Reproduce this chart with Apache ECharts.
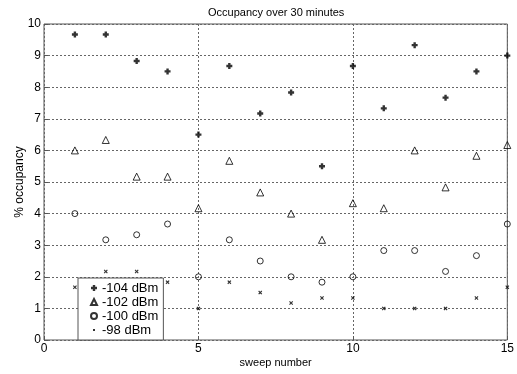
<!DOCTYPE html>
<html>
	<head>
		<meta charset="utf-8" />
		<title>Occupancy over 30 minutes</title>
		<style>
			html, body {
				width: 100%;
				height: 100%;
				margin: 0;
				padding: 0;
				background: #fff;
			}

			#main {
				width: 517px;
				height: 374px;
			}
		</style>
	</head>
	<body>
		<div id="main"></div>
		<script src="https://cdn.jsdelivr.net/npm/echarts@6/dist/echarts.min.js"></script>
		<script>
			var sweeps = [1, 2, 3, 4, 5, 6, 7, 8, 9, 10, 11, 12, 13, 14, 15];
			var dbm104 = [9.67, 9.67, 8.83, 8.5, 6.5, 8.67, 7.17, 7.83, 5.5, 8.67, 7.33, 9.33, 7.67, 8.5, 9.0];
			var dbm102 = [6.0, 6.33, 5.17, 5.17, 4.17, 5.67, 4.67, 4.0, 3.17, 4.33, 4.17, 6.0, 4.83, 5.83, 6.17];
			var dbm100 = [4.0, 3.17, 3.33, 3.67, 2.0, 3.17, 2.5, 2.0, 1.83, 2.0, 2.83, 2.83, 2.17, 2.67, 3.67];
			var dbm98 = [1.67, 2.17, 2.17, 1.83, 1.0, 1.83, 1.5, 1.17, 1.33, 1.33, 1.0, 1.0, 1.0, 1.33, 1.67];
			var seriesNames = ['-104 dBm', '-102 dBm', '-100 dBm', '-98 dBm'];

			var font = 'Liberation Sans, Arial, Helvetica, sans-serif';
			var plus = 'path://M-2,-5 h4 v3 h3 v4 h-3 v3 h-4 v-3 h-3 v-4 h3 z';
			var cross = 'path://M-5,-3 L-3,-5 L0,-2 L3,-5 L5,-3 L2,0 L5,3 L3,5 L0,2 L-3,5 L-5,3 L-2,0 z';
			// small mark for the legend, padded so it stays small in a 6px box
			var dotIcon = 'path://M-3,-3 M3,3 M-1,-1 L1,-1 L1,1 L-1,1 z';

			function pairs(vals) {
				return sweeps.map(function (s, i) { return [s, vals[i]]; });
			}

			var chart = echarts.init(document.getElementById('main'), null, { renderer: 'canvas' });
			chart.setOption({
				animation: false,
				backgroundColor: '#fff',
				textStyle: { fontFamily: font },
				title: {
					text: 'Occupancy over 30 minutes',
					left: 203,
					top: 2,
					textStyle: { fontSize: 11, fontWeight: 'normal', color: '#000', fontFamily: font }
				},
				grid: {
					left: 44, right: 7, top: 24, bottom: 34,
					show: true, borderColor: '#555', borderWidth: 1, backgroundColor: '#fff'
				},
				legend: {
					orient: 'vertical',
					left: 78,
					top: 278,
					padding: [3, 5, 3, 12],
					itemGap: 0,
					itemWidth: 6,
					itemHeight: 6,
					backgroundColor: '#fff',
					borderColor: '#555',
					borderWidth: 1,
					borderRadius: 0,
					data: [
						{ name: seriesNames[0] },
						{ name: seriesNames[1] },
						{ name: seriesNames[2] },
						{ name: seriesNames[3], icon: dotIcon }
					],
					textStyle: { fontSize: 13, color: '#000', fontFamily: font, lineHeight: 14 }
				},
				xAxis: {
					type: 'value',
					min: 0, max: 15, interval: 5,
					name: 'sweep number',
					nameLocation: 'middle',
					nameGap: 17,
					nameMoveOverlap: false,
					nameTextStyle: { fontSize: 11, color: '#000' },
					axisLine: { show: false },
					axisTick: { show: true, inside: true, length: 4, lineStyle: { color: '#555' } },
					axisLabel: { fontSize: 12, color: '#000', margin: 3 },
					splitLine: { show: true, lineStyle: { color: '#666', type: [2, 2], width: 1 } }
				},
				yAxis: {
					type: 'value',
					min: 0, max: 10, interval: 1,
					name: '% occupancy',
					nameLocation: 'middle',
					nameGap: 18,
					nameMoveOverlap: false,
					nameTextStyle: { fontSize: 12, color: '#000' },
					axisLine: { show: false },
					axisTick: { show: true, inside: true, length: 4, lineStyle: { color: '#555' } },
					axisLabel: { fontSize: 12, color: '#000', margin: 3 },
					splitLine: { show: true, lineStyle: { color: '#666', type: [2, 2], width: 1 } }
				},
				series: [
					{
						name: seriesNames[0], type: 'scatter', data: pairs(dbm104),
						symbol: plus, symbolSize: 6,
						itemStyle: { color: '#000' }
					},
					{
						name: seriesNames[1], type: 'scatter', data: pairs(dbm102),
						symbol: 'triangle', symbolSize: 7,
						itemStyle: { color: 'rgba(255,255,255,0)', borderColor: '#000', borderWidth: 1 }
					},
					{
						name: seriesNames[2], type: 'scatter', data: pairs(dbm100),
						symbol: 'circle', symbolSize: 6,
						itemStyle: { color: 'rgba(255,255,255,0)', borderColor: '#000', borderWidth: 1 }
					},
					{
						name: seriesNames[3], type: 'scatter', data: pairs(dbm98),
						symbol: cross, symbolSize: 4,
						itemStyle: { color: '#000' }
					}
				]
			});
		</script>
	</body>
</html>
